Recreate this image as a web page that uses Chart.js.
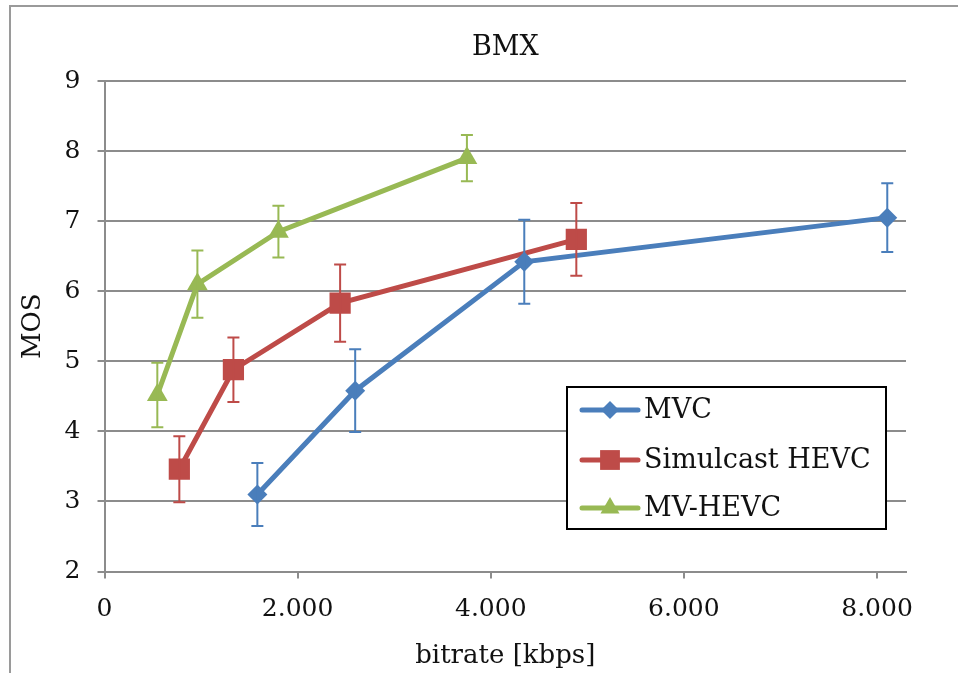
<!DOCTYPE html>
<html>
<head>
<meta charset="utf-8">
<script src="https://cdn.jsdelivr.net/npm/chart.js@4/dist/chart.umd.min.js"></script>
<style>
  html, body { margin: 0; padding: 0; background: #fff; overflow: hidden; }
  canvas { display: block; }
</style>
</head>
<body>
<canvas id="c" width="958" height="673"></canvas>
<script>
// bitrate [kbps], MOS and half-width of the error bars
const mvcRate = [1583, 2596, 4347, 8106];
const mvcMos  = [3.10, 4.58, 6.42, 7.05];
const mvcErr  = [0.45, 0.59, 0.60, 0.49];

const simRate = [775, 1335, 2440, 4886];
const simMos  = [3.46, 4.88, 5.83, 6.74];
const simErr  = [0.47, 0.46, 0.55, 0.52];

const mvhRate = [547, 962, 1801, 3753];
const mvhMos  = [4.52, 6.10, 6.85, 7.90];
const mvhErr  = [0.46, 0.48, 0.37, 0.33];

const xTicks = [0, 2000, 4000, 6000, 8000];
const yTicks = [2, 3, 4, 5, 6, 7, 8, 9];

const SERIF = '"DejaVu Serif", "Liberation Serif", serif';
const GRID = '#8c8c8c';

const pts = (xs, ys) => xs.map((x, i) => ({ x, y: ys[i] }));

function series(label, xs, ys, err, color, style, radius) {
  return {
    label, data: pts(xs, ys), err,
    borderColor: color, backgroundColor: color, borderWidth: 5,
    pointStyle: style, pointRadius: radius, pointHoverRadius: radius,
    pointBorderWidth: 0, tension: 0,
  };
}

// outer frame of the chart object: only left and top edges are inside the crop
const frame = {
  id: 'frame',
  beforeDraw(chart) {
    const ctx = chart.ctx;
    ctx.save();
    ctx.strokeStyle = '#9a9a9a';
    ctx.lineWidth = 2;
    ctx.beginPath();
    ctx.moveTo(10, 680); ctx.lineTo(10, 6); ctx.lineTo(970, 6);
    ctx.stroke();
    ctx.restore();
  },
};

const errorBars = {
  id: 'errorBars',
  afterDatasetsDraw(chart) {
    const { ctx, scales: { x, y } } = chart;
    chart.data.datasets.forEach((ds) => {
      ctx.save();
      ctx.strokeStyle = ds.borderColor;
      ctx.lineWidth = 2;
      ds.data.forEach((p, i) => {
        const px = x.getPixelForValue(p.x);
        const top = y.getPixelForValue(p.y + ds.err[i]);
        const bot = y.getPixelForValue(p.y - ds.err[i]);
        ctx.beginPath();
        ctx.moveTo(px, top); ctx.lineTo(px, bot);
        ctx.moveTo(px - 6, top); ctx.lineTo(px + 6, top);
        ctx.moveTo(px - 6, bot); ctx.lineTo(px + 6, bot);
        ctx.stroke();
      });
      ctx.restore();
    });
  },
};

// title and boxed legend drawn over the plot
const decor = {
  id: 'decor',
  afterDraw(chart) {
    const { ctx, chartArea: a } = chart;
    ctx.save();
    ctx.fillStyle = '#111';
    ctx.font = '27px ' + SERIF;
    ctx.textAlign = 'center';
    ctx.textBaseline = 'middle';
    ctx.fillText('BMX', (a.left + a.right) / 2, 48);

    const bx = 567, by = 387, bw = 319, bh = 142;
    ctx.fillStyle = '#fff';
    ctx.fillRect(bx, by, bw, bh);
    ctx.strokeStyle = '#000';
    ctx.lineWidth = 2;
    ctx.strokeRect(bx, by, bw, bh);
    const rowY = [410, 460, 508];
    chart.data.datasets.forEach((ds, i) => {
      const ly = rowY[i];
      ctx.strokeStyle = ds.borderColor;
      ctx.lineWidth = 5;
      ctx.lineCap = 'round';
      ctx.beginPath(); ctx.moveTo(582, ly); ctx.lineTo(638, ly); ctx.stroke();
      ctx.fillStyle = ds.backgroundColor;
      Chart.helpers.drawPoint(ctx, { pointStyle: ds.pointStyle, radius: ds.pointRadius - 1, borderWidth: 0 }, 610, ly);
      ctx.fillStyle = '#111';
      ctx.font = '27px ' + SERIF;
      ctx.textAlign = 'left';
      ctx.fillText(ds.label, 644, ly + 1);
    });
    ctx.restore();
  },
};

new Chart(document.getElementById('c'), {
  type: 'line',
  data: {
    datasets: [
      series('MVC', mvcRate, mvcMos, mvcErr, '#4a7ebb', 'rectRot', 10),
      series('Simulcast HEVC', simRate, simMos, simErr, '#be4b48', 'rect', 15),
      series('MV-HEVC', mvhRate, mvhMos, mvhErr, '#98b954', 'triangle', 12),
    ],
  },
  options: {
    responsive: false,
    animation: false,
    layout: { padding: { top: 81, right: 52, left: 0, bottom: 0 } },
    plugins: { legend: { display: false }, tooltip: { enabled: false }, title: { display: false } },
    scales: {
      x: {
        type: 'linear', min: 0, max: 8300,
        afterFit: (s) => { s.height = 673 - 571.5; },
        afterBuildTicks: (s) => { s.ticks = xTicks.map((v) => ({ value: v })); },
        grid: { display: true, drawOnChartArea: false, drawTicks: true, tickLength: 7, color: GRID, lineWidth: 2 },
        border: { display: true, color: GRID, width: 2 },
        ticks: {
          padding: 16, color: '#111', font: { family: SERIF, size: 25 },
          callback: (v) => (v === 0 ? '0' : (v / 1000).toFixed(3)),
        },
        title: { display: true, text: 'bitrate [kbps]', color: '#111', font: { family: SERIF, size: 26 }, padding: { top: 0, bottom: 1 } },
      },
      y: {
        type: 'linear', min: 2, max: 9,
        afterFit: (s) => { s.width = 104.5; },
        afterBuildTicks: (s) => { s.ticks = yTicks.map((v) => ({ value: v })); },
        grid: { color: GRID, lineWidth: 2, tickLength: 7 },
        border: { display: true, color: GRID, width: 2 },
        ticks: { padding: 17, color: '#111', font: { family: SERIF, size: 25 } },
        title: { display: true, text: 'MOS', color: '#111', font: { family: SERIF, size: 26 }, padding: { top: 18, bottom: 0 } },
      },
    },
  },
  plugins: [frame, errorBars, decor],
});
</script>
</body>
</html>
